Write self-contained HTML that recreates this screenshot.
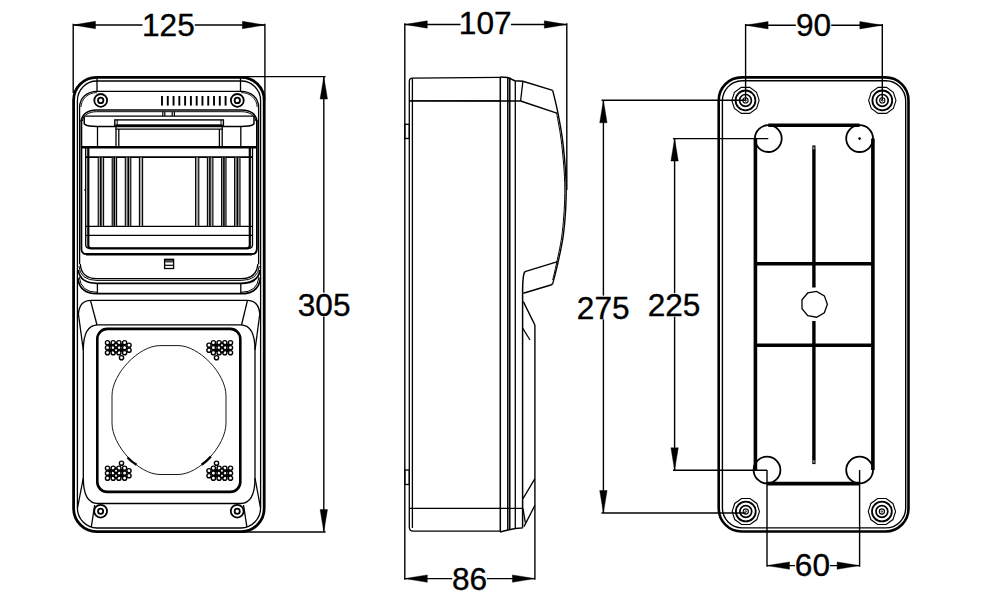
<!DOCTYPE html>
<html><head><meta charset="utf-8"><style>
html,body{margin:0;padding:0;background:#fff;}
svg{display:block;}
svg text{font-family:"Liberation Sans",sans-serif;font-size:31.6px;}
</style></head><body>
<svg width="1000" height="602" viewBox="0 0 1000 602" stroke="#000" fill="none" stroke-linecap="butt">
<rect x="0" y="0" width="1000" height="602" fill="#fff" stroke="none"/>
<line x1="73.2" y1="23.8" x2="73.2" y2="93" stroke-width="1.4"/>
<line x1="264.9" y1="23.8" x2="264.9" y2="100" stroke-width="1.4"/>
<line x1="73" y1="25" x2="264.9" y2="25" stroke-width="1.4"/>
<polygon points="73,25 95.5,21.3 95.5,28.7" fill="#000" stroke="#000" stroke-width="0.4"/>
<polygon points="264.9,25 242.4,28.7 242.4,21.3" fill="#000" stroke="#000" stroke-width="0.4"/>
<rect x="142.5" y="12" width="52.30000000000001" height="26" fill="#fff" stroke="none"/>
<text x="168.4" y="35.6" text-anchor="middle" stroke="#000" stroke-width="0.35" fill="#000">125</text>
<line x1="241" y1="76.6" x2="325.6" y2="76.6" stroke-width="1.4"/>
<line x1="242" y1="532" x2="325.6" y2="532" stroke-width="1.4"/>
<line x1="323.8" y1="76.6" x2="323.8" y2="532" stroke-width="1.4"/>
<polygon points="323.8,76.6 327.5,99.1 320.1,99.1" fill="#000" stroke="#000" stroke-width="0.4"/>
<polygon points="323.8,532 320.1,509.5 327.5,509.5" fill="#000" stroke="#000" stroke-width="0.4"/>
<rect x="296" y="292.6" width="56" height="24.0" fill="#fff" stroke="none"/>
<text x="324.1" y="315.8" text-anchor="middle" stroke="#000" stroke-width="0.35" fill="#000">305</text>
<path d="M96.5,77.3 H241.2 A23,23 0 0 1 264.2,100.3 V508.6 A23,23 0 0 1 241.2,531.6 H96.5 A23,23 0 0 1 73.6,508.6 V100.3 A23,23 0 0 1 96.5,77.3 Z" stroke-width="2.8" fill="none"/>
<path d="M97,81 H241 A19.5,19.5 0 0 1 260.6,100.5 V508 A20,20 0 0 1 241,528 H97 A20,20 0 0 1 77.4,508 V100.5 A19.5,19.5 0 0 1 97,81 Z" stroke-width="1.3" fill="none"/>
<line x1="79.6" y1="107" x2="79.6" y2="264" stroke-width="1.3"/>
<line x1="258.6" y1="107" x2="258.6" y2="264" stroke-width="1.3"/>
<line x1="97" y1="77.3" x2="97" y2="91" stroke-width="1.3"/>
<line x1="240.5" y1="77.3" x2="240.5" y2="91" stroke-width="1.3"/>
<path d="M79.6,107 C79.8,98 87,91.3 97,91.3 H241.2 C251.2,91.3 258.4,98 258.6,107" stroke-width="1.3" fill="none"/>
<path d="M81,107 C81.3,99 88,92.6 97,92.6 M241.2,92.6 C250.2,92.6 256.9,99 257.2,107" stroke-width="0.9" fill="none"/>
<circle cx="100.7" cy="100.4" r="6.4" stroke-width="1.8" fill="none"/>
<circle cx="100.7" cy="100.4" r="2.7" stroke-width="1.8" fill="none"/>
<circle cx="237.3" cy="100.4" r="6.4" stroke-width="1.8" fill="none"/>
<circle cx="237.3" cy="100.4" r="2.7" stroke-width="1.8" fill="none"/>
<rect x="161.05" y="96" width="1.9" height="9.6" fill="#000" stroke="none"/>
<rect x="166.83" y="96" width="1.9" height="9.6" fill="#000" stroke="none"/>
<rect x="172.61" y="96" width="1.9" height="9.6" fill="#000" stroke="none"/>
<rect x="178.39" y="96" width="1.9" height="9.6" fill="#000" stroke="none"/>
<rect x="184.17" y="96" width="1.9" height="9.6" fill="#000" stroke="none"/>
<rect x="189.95" y="96" width="1.9" height="9.6" fill="#000" stroke="none"/>
<rect x="195.73" y="96" width="1.9" height="9.6" fill="#000" stroke="none"/>
<rect x="201.51" y="96" width="1.9" height="9.6" fill="#000" stroke="none"/>
<rect x="207.29" y="96" width="1.9" height="9.6" fill="#000" stroke="none"/>
<rect x="213.07" y="96" width="1.9" height="9.6" fill="#000" stroke="none"/>
<rect x="218.85" y="96" width="1.9" height="9.6" fill="#000" stroke="none"/>
<rect x="224.63" y="96" width="1.9" height="9.6" fill="#000" stroke="none"/>
<path d="M96.7,110 H241.5 C250,110 256.5,114 257,121.5 M96.7,110 C88.2,110 81.7,114 81.2,121.5" stroke-width="1.5" fill="none"/>
<path d="M96.7,111.7 H241.5 C249,111.7 255,115 255.8,121 M96.7,111.7 C89.2,111.7 83.2,115 82.4,121" stroke-width="1.0" fill="none"/>
<line x1="84.2" y1="116.2" x2="254" y2="116.2" stroke-width="1.3"/>
<path d="M254,116.2 V123.5 Q253.5,125.9 245,126.3 L241,126.6 H97 L93.2,126.3 Q84.7,125.9 84.2,123.5 V116.2" stroke-width="1.5" fill="none"/>
<line x1="162.8" y1="111.7" x2="162.8" y2="116" stroke-width="1.2"/>
<line x1="164.8" y1="111.7" x2="164.8" y2="116" stroke-width="1.2"/>
<line x1="172.2" y1="111.7" x2="172.2" y2="116" stroke-width="1.2"/>
<line x1="174.4" y1="111.7" x2="174.4" y2="116" stroke-width="1.2"/>
<rect x="114.8" y="119.9" width="108.6" height="5.4" rx="0" stroke-width="1.4" fill="none"/>
<line x1="117.2" y1="119.9" x2="117.2" y2="125.3" stroke-width="1.0"/>
<line x1="221" y1="119.9" x2="221" y2="125.3" stroke-width="1.0"/>
<line x1="116" y1="125.4" x2="221.5" y2="125.4" stroke-width="2.0"/>
<line x1="115.5" y1="129.1" x2="222.8" y2="129.1" stroke-width="1.2"/>
<line x1="97.5" y1="126.6" x2="97.5" y2="147" stroke-width="1.3"/>
<line x1="240.8" y1="126.6" x2="240.8" y2="147" stroke-width="1.3"/>
<line x1="116" y1="125.3" x2="116" y2="147" stroke-width="1.3"/>
<line x1="118.8" y1="129.1" x2="118.8" y2="147" stroke-width="1.3"/>
<line x1="222.2" y1="125.3" x2="222.2" y2="147" stroke-width="1.3"/>
<line x1="219.4" y1="129.1" x2="219.4" y2="147" stroke-width="1.3"/>
<path d="M81.4,120 V248.5 Q81.4,254.2 86.5,254.2 H251.8 Q256.9,254.2 256.9,248.5 V120" stroke-width="1.8" fill="none"/>
<line x1="86" y1="254.2" x2="252" y2="254.2" stroke-width="2.6"/>
<line x1="81.4" y1="147.2" x2="256.9" y2="147.2" stroke-width="2.6"/>
<path d="M85.7,147 V244.5 Q85.7,248.4 90,248.4 H248.4 Q252.5,248.4 252.5,244.5 V147" stroke-width="1.3" fill="none"/>
<path d="M88.3,147 V245.5 Q88.3,248.3 91,248.3 H247 Q249.8,248.3 249.8,245.5 V147" stroke-width="2.2" fill="none"/>
<line x1="86" y1="157.2" x2="252.5" y2="157.2" stroke-width="1.8"/>
<line x1="86" y1="226.4" x2="252.5" y2="226.4" stroke-width="1.3"/>
<line x1="86" y1="235.3" x2="252.5" y2="235.3" stroke-width="1.3"/>
<line x1="84" y1="190" x2="86" y2="190" stroke-width="1"/>
<rect x="98.2" y="157.5" width="5.4" height="68.6" fill="#aaa" stroke="none"/>
<line x1="98.2" y1="157" x2="98.2" y2="226.4" stroke-width="1.1"/>
<line x1="103.6" y1="157" x2="103.6" y2="226.4" stroke-width="1.1"/>
<line x1="100.8" y1="157" x2="100.8" y2="226.4" stroke-width="1.5"/>
<rect x="234.6" y="157.5" width="5.4" height="68.6" fill="#aaa" stroke="none"/>
<line x1="234.6" y1="157" x2="234.6" y2="226.4" stroke-width="1.1"/>
<line x1="240" y1="157" x2="240" y2="226.4" stroke-width="1.1"/>
<line x1="237.4" y1="157" x2="237.4" y2="226.4" stroke-width="1.5"/>
<rect x="112.2" y="157.5" width="4.4" height="68.6" fill="#aaa" stroke="none"/>
<line x1="112.2" y1="157" x2="112.2" y2="226.4" stroke-width="1.1"/>
<line x1="116.6" y1="157" x2="116.6" y2="226.4" stroke-width="1.1"/>
<line x1="114.3" y1="157" x2="114.3" y2="226.4" stroke-width="1.5"/>
<rect x="221.6" y="157.5" width="4.4" height="68.6" fill="#aaa" stroke="none"/>
<line x1="221.6" y1="157" x2="221.6" y2="226.4" stroke-width="1.1"/>
<line x1="226" y1="157" x2="226" y2="226.4" stroke-width="1.1"/>
<line x1="223.9" y1="157" x2="223.9" y2="226.4" stroke-width="1.5"/>
<rect x="125.3" y="157.5" width="5.5" height="68.6" fill="#aaa" stroke="none"/>
<line x1="125.3" y1="157" x2="125.3" y2="226.4" stroke-width="1.1"/>
<line x1="130.8" y1="157" x2="130.8" y2="226.4" stroke-width="1.1"/>
<line x1="128.3" y1="157" x2="128.3" y2="226.4" stroke-width="1.5"/>
<rect x="207.4" y="157.5" width="5.5" height="68.6" fill="#aaa" stroke="none"/>
<line x1="207.4" y1="157" x2="207.4" y2="226.4" stroke-width="1.1"/>
<line x1="212.9" y1="157" x2="212.9" y2="226.4" stroke-width="1.1"/>
<line x1="209.9" y1="157" x2="209.9" y2="226.4" stroke-width="1.5"/>
<rect x="139.4" y="157.5" width="3.2" height="68.6" fill="#aaa" stroke="none"/>
<line x1="139.4" y1="157" x2="139.4" y2="226.4" stroke-width="1.1"/>
<line x1="142.6" y1="157" x2="142.6" y2="226.4" stroke-width="1.1"/>
<rect x="195.6" y="157.5" width="3.2" height="68.6" fill="#aaa" stroke="none"/>
<line x1="195.6" y1="157" x2="195.6" y2="226.4" stroke-width="1.1"/>
<line x1="198.8" y1="157" x2="198.8" y2="226.4" stroke-width="1.1"/>
<rect x="164.6" y="259.3" width="9" height="9.2" rx="0" stroke-width="1.3" fill="none"/>
<line x1="164.6" y1="259.9" x2="173.6" y2="259.9" stroke-width="1.6"/>
<line x1="164.6" y1="261.8" x2="173.6" y2="261.8" stroke-width="1.1"/>
<line x1="164.6" y1="265.3" x2="173.6" y2="265.3" stroke-width="1.2"/>
<path d="M80.3,264 Q81.3,278.7 97,278.7 H241.2 Q256.9,278.7 257.9,264" stroke-width="1.3" fill="none"/>
<path d="M78.9,266 Q80,280.4 97,280.4 H241.2 Q258.2,280.4 259.3,266" stroke-width="1.0" fill="none"/>
<path d="M78.2,270 Q80,283.3 97,283.3 H241.2 Q258.2,283.3 260,270" stroke-width="1.8" fill="none"/>
<line x1="97.4" y1="283.3" x2="97.4" y2="293.7" stroke-width="1.3"/>
<line x1="240.8" y1="283.3" x2="240.8" y2="293.7" stroke-width="1.3"/>
<path d="M77.8,278 Q79.5,293.7 97,293.7 H241.2 Q258.7,293.7 260.4,278" stroke-width="1.8" fill="none"/>
<path d="M79.2,277 Q81,292.3 97,292.3 M241.2,292.3 Q257.2,292.3 259,277" stroke-width="1.0" fill="none"/>
<path d="M78.4,314 Q79.5,300.4 91,300.4 H247 Q258.7,300.4 259.8,314" stroke-width="1.3" fill="none"/>
<line x1="90.5" y1="300.4" x2="97" y2="325" stroke-width="1.3"/>
<line x1="247.5" y1="300.4" x2="241.5" y2="325" stroke-width="1.3"/>
<path d="M83.3,350 Q83.3,324.8 98,324.8 H240.5 Q255,324.8 255,350 V478 Q255,503.5 240.5,503.5 H98 Q83.3,503.5 83.3,478 Z" stroke-width="1.3" fill="none"/>
<line x1="83.3" y1="478" x2="77.5" y2="508" stroke-width="1.3"/>
<line x1="255" y1="478" x2="260.5" y2="508" stroke-width="1.3"/>
<line x1="78.4" y1="314" x2="83.3" y2="350" stroke-width="1.3"/>
<line x1="259.8" y1="314" x2="255" y2="350" stroke-width="1.3"/>
<line x1="94.7" y1="505" x2="91.3" y2="527" stroke-width="1.3"/>
<line x1="243.5" y1="505" x2="246.9" y2="527" stroke-width="1.3"/>
<rect x="97.3" y="328.9" width="143" height="163" rx="10" stroke-width="2.6" fill="none"/>
<path d="M160,345.6 H178 C199.12,345.6 226,373.71 226,395.8 V423 C226,445.66 199.12,474.5 178,474.5 H160 C138.88,474.5 112,445.66 112,423 V395.8 C112,373.71 138.88,345.6 160,345.6 Z" stroke-width="0.9" fill="none"/>
<path d="M127.5,457.5 Q131.5,461.8 136.5,464.7" stroke-width="2.4" fill="none"/>
<path d="M210.9,456.5 Q206.5,461.5 201.6,464.7" stroke-width="2.4" fill="none"/>
<circle cx="110.35" cy="345.2" r="1.8" stroke-width="0" fill="#000"/>
<circle cx="110.35" cy="350.2" r="1.8" stroke-width="0" fill="#000"/>
<circle cx="121.7" cy="345.2" r="1.8" stroke-width="0" fill="#000"/>
<circle cx="121.7" cy="350.2" r="1.8" stroke-width="0" fill="#000"/>
<circle cx="107.5" cy="342.7" r="2.1" stroke-width="1.4" fill="none"/>
<circle cx="107.5" cy="347.7" r="2.1" stroke-width="1.4" fill="none"/>
<circle cx="107.5" cy="352.7" r="2.1" stroke-width="1.4" fill="none"/>
<circle cx="113.2" cy="342.7" r="2.1" stroke-width="1.4" fill="none"/>
<circle cx="113.2" cy="347.7" r="2.1" stroke-width="1.4" fill="none"/>
<circle cx="113.2" cy="352.7" r="2.1" stroke-width="1.4" fill="none"/>
<circle cx="118.9" cy="342.7" r="2.1" stroke-width="1.4" fill="none"/>
<circle cx="118.9" cy="347.7" r="2.1" stroke-width="1.4" fill="none"/>
<circle cx="118.9" cy="352.7" r="2.1" stroke-width="1.4" fill="none"/>
<circle cx="124.6" cy="342.7" r="2.1" stroke-width="1.4" fill="none"/>
<circle cx="124.6" cy="347.7" r="2.1" stroke-width="1.4" fill="none"/>
<circle cx="124.6" cy="352.7" r="2.1" stroke-width="1.4" fill="none"/>
<circle cx="116" cy="345.2" r="2.1" stroke-width="1.4" fill="none"/>
<circle cx="116" cy="350.2" r="2.1" stroke-width="1.4" fill="none"/>
<circle cx="129" cy="345.2" r="2.1" stroke-width="1.4" fill="none"/>
<circle cx="129" cy="350.2" r="2.1" stroke-width="1.4" fill="none"/>
<circle cx="121.5" cy="357.7" r="2.1" stroke-width="1.4" fill="none"/>
<circle cx="227.65" cy="345.2" r="1.8" stroke-width="0" fill="#000"/>
<circle cx="227.65" cy="350.2" r="1.8" stroke-width="0" fill="#000"/>
<circle cx="216.3" cy="345.2" r="1.8" stroke-width="0" fill="#000"/>
<circle cx="216.3" cy="350.2" r="1.8" stroke-width="0" fill="#000"/>
<circle cx="230.5" cy="342.7" r="2.1" stroke-width="1.4" fill="none"/>
<circle cx="230.5" cy="347.7" r="2.1" stroke-width="1.4" fill="none"/>
<circle cx="230.5" cy="352.7" r="2.1" stroke-width="1.4" fill="none"/>
<circle cx="224.8" cy="342.7" r="2.1" stroke-width="1.4" fill="none"/>
<circle cx="224.8" cy="347.7" r="2.1" stroke-width="1.4" fill="none"/>
<circle cx="224.8" cy="352.7" r="2.1" stroke-width="1.4" fill="none"/>
<circle cx="219.1" cy="342.7" r="2.1" stroke-width="1.4" fill="none"/>
<circle cx="219.1" cy="347.7" r="2.1" stroke-width="1.4" fill="none"/>
<circle cx="219.1" cy="352.7" r="2.1" stroke-width="1.4" fill="none"/>
<circle cx="213.4" cy="342.7" r="2.1" stroke-width="1.4" fill="none"/>
<circle cx="213.4" cy="347.7" r="2.1" stroke-width="1.4" fill="none"/>
<circle cx="213.4" cy="352.7" r="2.1" stroke-width="1.4" fill="none"/>
<circle cx="222" cy="345.2" r="2.1" stroke-width="1.4" fill="none"/>
<circle cx="222" cy="350.2" r="2.1" stroke-width="1.4" fill="none"/>
<circle cx="209" cy="345.2" r="2.1" stroke-width="1.4" fill="none"/>
<circle cx="209" cy="350.2" r="2.1" stroke-width="1.4" fill="none"/>
<circle cx="216.5" cy="357.7" r="2.1" stroke-width="1.4" fill="none"/>
<circle cx="110.35" cy="475.7" r="1.8" stroke-width="0" fill="#000"/>
<circle cx="110.35" cy="470.7" r="1.8" stroke-width="0" fill="#000"/>
<circle cx="121.7" cy="475.7" r="1.8" stroke-width="0" fill="#000"/>
<circle cx="121.7" cy="470.7" r="1.8" stroke-width="0" fill="#000"/>
<circle cx="107.5" cy="478.2" r="2.1" stroke-width="1.4" fill="none"/>
<circle cx="107.5" cy="473.2" r="2.1" stroke-width="1.4" fill="none"/>
<circle cx="107.5" cy="468.2" r="2.1" stroke-width="1.4" fill="none"/>
<circle cx="113.2" cy="478.2" r="2.1" stroke-width="1.4" fill="none"/>
<circle cx="113.2" cy="473.2" r="2.1" stroke-width="1.4" fill="none"/>
<circle cx="113.2" cy="468.2" r="2.1" stroke-width="1.4" fill="none"/>
<circle cx="118.9" cy="478.2" r="2.1" stroke-width="1.4" fill="none"/>
<circle cx="118.9" cy="473.2" r="2.1" stroke-width="1.4" fill="none"/>
<circle cx="118.9" cy="468.2" r="2.1" stroke-width="1.4" fill="none"/>
<circle cx="124.6" cy="478.2" r="2.1" stroke-width="1.4" fill="none"/>
<circle cx="124.6" cy="473.2" r="2.1" stroke-width="1.4" fill="none"/>
<circle cx="124.6" cy="468.2" r="2.1" stroke-width="1.4" fill="none"/>
<circle cx="116" cy="475.7" r="2.1" stroke-width="1.4" fill="none"/>
<circle cx="116" cy="470.7" r="2.1" stroke-width="1.4" fill="none"/>
<circle cx="129" cy="475.7" r="2.1" stroke-width="1.4" fill="none"/>
<circle cx="129" cy="470.7" r="2.1" stroke-width="1.4" fill="none"/>
<circle cx="121.5" cy="463.2" r="2.1" stroke-width="1.4" fill="none"/>
<circle cx="227.65" cy="475.7" r="1.8" stroke-width="0" fill="#000"/>
<circle cx="227.65" cy="470.7" r="1.8" stroke-width="0" fill="#000"/>
<circle cx="216.3" cy="475.7" r="1.8" stroke-width="0" fill="#000"/>
<circle cx="216.3" cy="470.7" r="1.8" stroke-width="0" fill="#000"/>
<circle cx="230.5" cy="478.2" r="2.1" stroke-width="1.4" fill="none"/>
<circle cx="230.5" cy="473.2" r="2.1" stroke-width="1.4" fill="none"/>
<circle cx="230.5" cy="468.2" r="2.1" stroke-width="1.4" fill="none"/>
<circle cx="224.8" cy="478.2" r="2.1" stroke-width="1.4" fill="none"/>
<circle cx="224.8" cy="473.2" r="2.1" stroke-width="1.4" fill="none"/>
<circle cx="224.8" cy="468.2" r="2.1" stroke-width="1.4" fill="none"/>
<circle cx="219.1" cy="478.2" r="2.1" stroke-width="1.4" fill="none"/>
<circle cx="219.1" cy="473.2" r="2.1" stroke-width="1.4" fill="none"/>
<circle cx="219.1" cy="468.2" r="2.1" stroke-width="1.4" fill="none"/>
<circle cx="213.4" cy="478.2" r="2.1" stroke-width="1.4" fill="none"/>
<circle cx="213.4" cy="473.2" r="2.1" stroke-width="1.4" fill="none"/>
<circle cx="213.4" cy="468.2" r="2.1" stroke-width="1.4" fill="none"/>
<circle cx="222" cy="475.7" r="2.1" stroke-width="1.4" fill="none"/>
<circle cx="222" cy="470.7" r="2.1" stroke-width="1.4" fill="none"/>
<circle cx="209" cy="475.7" r="2.1" stroke-width="1.4" fill="none"/>
<circle cx="209" cy="470.7" r="2.1" stroke-width="1.4" fill="none"/>
<circle cx="216.5" cy="463.2" r="2.1" stroke-width="1.4" fill="none"/>
<circle cx="100.6" cy="511.2" r="6.4" stroke-width="1.8" fill="none"/>
<circle cx="100.6" cy="511.2" r="2.6" stroke-width="1.8" fill="none"/>
<circle cx="237.2" cy="511.2" r="6.4" stroke-width="1.8" fill="none"/>
<circle cx="237.2" cy="511.2" r="2.6" stroke-width="1.8" fill="none"/>
<line x1="404.8" y1="23.3" x2="404.8" y2="579.8" stroke-width="1.4"/>
<line x1="566.8" y1="23.3" x2="566.8" y2="190" stroke-width="1.4"/>
<line x1="404.8" y1="24.5" x2="566.8" y2="24.5" stroke-width="1.4"/>
<polygon points="404.8,24.5 427.3,20.8 427.3,28.2" fill="#000" stroke="#000" stroke-width="0.4"/>
<polygon points="566.8,24.5 544.3,28.2 544.3,20.8" fill="#000" stroke="#000" stroke-width="0.4"/>
<rect x="460.5" y="10" width="50.5" height="27" fill="#fff" stroke="none"/>
<text x="485.2" y="34.3" text-anchor="middle" stroke="#000" stroke-width="0.35" fill="#000">107</text>
<line x1="534.9" y1="325" x2="534.9" y2="579.8" stroke-width="1.4"/>
<line x1="404.8" y1="578.6" x2="534.9" y2="578.6" stroke-width="1.4"/>
<polygon points="404.8,578.6 427.3,574.9 427.3,582.3" fill="#000" stroke="#000" stroke-width="0.4"/>
<polygon points="534.9,578.6 512.4,582.3 512.4,574.9" fill="#000" stroke="#000" stroke-width="0.4"/>
<rect x="452.3" y="565" width="34.5" height="27" fill="#fff" stroke="none"/>
<text x="469.6" y="590" text-anchor="middle" stroke="#000" stroke-width="0.35" fill="#000">86</text>
<path d="M409.3,508 V81.5 Q409.3,78.2 412.5,78.2 L500.3,77.3" stroke-width="1.3" fill="none"/>
<line x1="412.4" y1="78.3" x2="412.4" y2="528" stroke-width="1.3"/>
<path d="M409.3,508 V527 Q409.3,531.2 413.5,531.2 H500" stroke-width="1.3" fill="none"/>
<line x1="409.3" y1="100.9" x2="500.3" y2="100.9" stroke-width="1.3"/>
<line x1="409.3" y1="508.3" x2="523" y2="508.3" stroke-width="1.3"/>
<rect x="404.8" y="124.3" width="4.5" height="14.2" rx="0" stroke-width="1.3" fill="none"/>
<rect x="404.8" y="470" width="4.5" height="14.5" rx="0" stroke-width="1.3" fill="none"/>
<line x1="500.3" y1="77" x2="500.3" y2="532" stroke-width="1.5"/>
<line x1="507.8" y1="77.5" x2="507.8" y2="530" stroke-width="1.5"/>
<line x1="509.8" y1="77.5" x2="509.8" y2="530" stroke-width="1.5"/>
<line x1="515.3" y1="80.8" x2="515.3" y2="528.5" stroke-width="1.3"/>
<path d="M500.3,77 L507.6,77.5 L514.7,80.8 L522.9,81.2 L552.7,90.4" stroke-width="1.5" fill="none"/>
<path d="M552.7,90.4 C553.57,94.15 556.17,103.92 557.9,112.9 C559.63,121.88 561.72,131.78 563.1,144.3 C564.48,156.82 566.08,173.47 566.2,188 C566.32,202.53 565.18,219.02 563.8,231.5 C562.42,243.98 559.75,254.18 557.9,262.9 C556.05,271.62 553.57,280.32 552.7,283.8" stroke-width="1.4" fill="none"/>
<path d="M556.6,112.9 C557.45,118.13 560.33,131.78 561.7,144.3 C563.07,156.82 564.68,173.47 564.8,188 C564.92,202.53 563.77,219.02 562.4,231.5 C561.03,243.98 558.22,254.82 556.6,262.9 C554.98,270.98 553.35,277.15 552.7,280" stroke-width="1.0" fill="none"/>
<line x1="552.7" y1="283.8" x2="550.8" y2="285" stroke-width="1.5"/>
<line x1="409.3" y1="100.8" x2="520.6" y2="101" stroke-width="1.3"/>
<line x1="520.6" y1="101" x2="557.5" y2="113.4" stroke-width="1.5"/>
<line x1="522.9" y1="81.2" x2="520.6" y2="101" stroke-width="1.3"/>
<line x1="557.6" y1="261.6" x2="525" y2="271.6" stroke-width="1.5"/>
<line x1="550.8" y1="285" x2="523.3" y2="293.3" stroke-width="1.5"/>
<path d="M525,271.6 Q522.6,274 522.6,293 V527.8" stroke-width="1.5" fill="none"/>
<line x1="523.3" y1="301.6" x2="534.9" y2="325" stroke-width="1.4"/>
<line x1="522.6" y1="328" x2="530" y2="340" stroke-width="1.3"/>
<line x1="523" y1="498.6" x2="534.9" y2="478.6" stroke-width="1.3"/>
<line x1="524" y1="526.6" x2="534.9" y2="505.3" stroke-width="1.3"/>
<path d="M500,532 L508,530 L515.3,528.5 L523,527.8" stroke-width="1.3" fill="none"/>
<path d="M523,508.3 L525.3,522.6" stroke-width="1.3" fill="none"/>
<line x1="745.6" y1="24" x2="745.6" y2="100.4" stroke-width="1.4"/>
<line x1="882.3" y1="24" x2="882.3" y2="100.4" stroke-width="1.4"/>
<line x1="745.6" y1="25.2" x2="882.3" y2="25.2" stroke-width="1.4"/>
<polygon points="745.6,25.2 768.1,21.5 768.1,28.9" fill="#000" stroke="#000" stroke-width="0.4"/>
<polygon points="882.3,25.2 859.8,28.9 859.8,21.5" fill="#000" stroke="#000" stroke-width="0.4"/>
<rect x="795.8" y="12" width="35.40000000000009" height="26" fill="#fff" stroke="none"/>
<text x="813.6" y="35.6" text-anchor="middle" stroke="#000" stroke-width="0.35" fill="#000">90</text>
<line x1="601.5" y1="100.3" x2="745.6" y2="100.3" stroke-width="1.4"/>
<line x1="601.5" y1="513" x2="745.6" y2="513" stroke-width="1.4"/>
<line x1="603.4" y1="100.3" x2="603.4" y2="513" stroke-width="1.4"/>
<polygon points="603.4,100.3 607.1,122.8 599.7,122.8" fill="#000" stroke="#000" stroke-width="0.4"/>
<polygon points="603.4,513 599.7,490.5 607.1,490.5" fill="#000" stroke="#000" stroke-width="0.4"/>
<rect x="575" y="295.6" width="56" height="23.799999999999955" fill="#fff" stroke="none"/>
<text x="603.2" y="318.8" text-anchor="middle" stroke="#000" stroke-width="0.35" fill="#000">275</text>
<line x1="673" y1="138.6" x2="768.3" y2="138.6" stroke-width="1.4"/>
<line x1="673" y1="470.3" x2="767" y2="470.3" stroke-width="1.4"/>
<line x1="674.6" y1="138.6" x2="674.6" y2="470.3" stroke-width="1.4"/>
<polygon points="674.6,138.6 678.3,161.1 670.9,161.1" fill="#000" stroke="#000" stroke-width="0.4"/>
<polygon points="674.6,470.3 670.9,447.8 678.3,447.8" fill="#000" stroke="#000" stroke-width="0.4"/>
<rect x="646" y="293" width="56" height="23.80000000000001" fill="#fff" stroke="none"/>
<text x="674" y="316.4" text-anchor="middle" stroke="#000" stroke-width="0.35" fill="#000">225</text>
<line x1="767" y1="470" x2="767" y2="566.8" stroke-width="1.4"/>
<line x1="859.6" y1="470" x2="859.6" y2="566.8" stroke-width="1.4"/>
<line x1="767" y1="565.6" x2="859.6" y2="565.6" stroke-width="1.4"/>
<polygon points="767,565.6 789.5,561.9 789.5,569.3" fill="#000" stroke="#000" stroke-width="0.4"/>
<polygon points="859.6,565.6 837.1,569.3 837.1,561.9" fill="#000" stroke="#000" stroke-width="0.4"/>
<rect x="795" y="552" width="35" height="26" fill="#fff" stroke="none"/>
<text x="812.4" y="576.4" text-anchor="middle" stroke="#000" stroke-width="0.35" fill="#000">60</text>
<path d="M742,77.4 H885.5 A23,23 0 0 1 908.5,100.4 V508.5 A23,23 0 0 1 885.5,531.5 H742 A23,23 0 0 1 718.7,508.5 V100.4 A23,23 0 0 1 742,77.4 Z" stroke-width="2.6" fill="none"/>
<path d="M742,80.8 H885.5 A20,20 0 0 1 905.7,101 V508 A20,20 0 0 1 885.5,527.9 H742 A20,20 0 0 1 722.4,508 V101 A20,20 0 0 1 742,80.8 Z" stroke-width="1.4" fill="none"/>
<polygon points="759.17,100.4 756.56,108.44 749.72,113.4 741.28,113.4 734.44,108.44 731.83,100.4 734.44,92.36 741.28,87.4 749.72,87.4 756.56,92.36" stroke-width="1.1" fill="none"/>
<circle cx="745.5" cy="100.4" r="9.9" stroke-width="1.8" fill="none"/>
<circle cx="745.5" cy="100.4" r="5.9" stroke-width="1.7" fill="none"/>
<circle cx="745.5" cy="100.4" r="2.6" stroke-width="1.1" fill="none"/>
<circle cx="745.5" cy="100.4" r="0.8" stroke-width="0.8" fill="none"/>
<polygon points="895.97,100.4 893.36,108.44 886.52,113.4 878.08,113.4 871.24,108.44 868.63,100.4 871.24,92.36 878.08,87.4 886.52,87.4 893.36,92.36" stroke-width="1.1" fill="none"/>
<circle cx="882.3" cy="100.4" r="9.9" stroke-width="1.8" fill="none"/>
<circle cx="882.3" cy="100.4" r="5.9" stroke-width="1.7" fill="none"/>
<circle cx="882.3" cy="100.4" r="2.6" stroke-width="1.1" fill="none"/>
<circle cx="882.3" cy="100.4" r="0.8" stroke-width="0.8" fill="none"/>
<polygon points="759.47,511.5 756.86,519.54 750.02,524.5 741.58,524.5 734.74,519.54 732.13,511.5 734.74,503.46 741.58,498.5 750.02,498.5 756.86,503.46" stroke-width="1.1" fill="none"/>
<circle cx="745.8" cy="511.5" r="9.9" stroke-width="1.8" fill="none"/>
<circle cx="745.8" cy="511.5" r="5.9" stroke-width="1.7" fill="none"/>
<circle cx="745.8" cy="511.5" r="2.6" stroke-width="1.1" fill="none"/>
<circle cx="745.8" cy="511.5" r="0.8" stroke-width="0.8" fill="none"/>
<polygon points="895.57,511.5 892.96,519.54 886.12,524.5 877.68,524.5 870.84,519.54 868.23,511.5 870.84,503.46 877.68,498.5 886.12,498.5 892.96,503.46" stroke-width="1.1" fill="none"/>
<circle cx="881.9" cy="511.5" r="9.9" stroke-width="1.8" fill="none"/>
<circle cx="881.9" cy="511.5" r="5.9" stroke-width="1.7" fill="none"/>
<circle cx="881.9" cy="511.5" r="2.6" stroke-width="1.1" fill="none"/>
<circle cx="881.9" cy="511.5" r="0.8" stroke-width="0.8" fill="none"/>
<path d="M768.3,125.3 H859.6 M872.9,138.6 V470 M859.6,483.6 H767 M755.4,470 V138.6" stroke-width="3.6" fill="none"/>
<circle cx="768.3" cy="138.6" r="13.4" stroke-width="1.8" fill="none"/>
<circle cx="859.6" cy="138.6" r="13.4" stroke-width="1.8" fill="none"/>
<circle cx="767" cy="470" r="13.4" stroke-width="1.8" fill="none"/>
<circle cx="859.6" cy="470" r="13.4" stroke-width="1.8" fill="none"/>
<circle cx="859.6" cy="138.6" r="1.3" stroke-width="0" fill="#000"/>
<line x1="755" y1="263.7" x2="873" y2="263.7" stroke-width="3.4"/>
<line x1="755" y1="345.3" x2="873" y2="345.3" stroke-width="3.4"/>
<line x1="813.9" y1="150" x2="813.9" y2="287.5" stroke-width="3.4"/>
<rect x="812.9" y="146" width="2" height="4" rx="0" stroke-width="1.2" fill="none"/>
<line x1="813.9" y1="321" x2="813.9" y2="459.5" stroke-width="3.4"/>
<rect x="812.9" y="459.5" width="2" height="4" rx="0" stroke-width="1.2" fill="none"/>
<polygon points="827.4,304.3 824.34,312.72 816.57,317.2 807.75,315.64 801.99,308.78 801.99,299.82 807.75,292.96 816.57,291.4 824.34,295.88" stroke-width="1.3" fill="none"/>
</svg>
</body></html>
